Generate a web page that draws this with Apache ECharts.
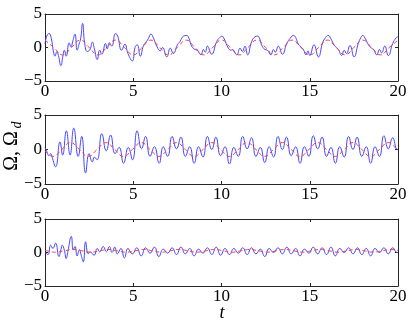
<!DOCTYPE html>
<html><head><meta charset="utf-8">
<script src="https://cdn.jsdelivr.net/npm/echarts/dist/echarts.min.js"></script>
<style>html,body{margin:0;padding:0;background:#fff}#c{width:411px;height:324px}</style>
</head><body><div id="c"></div>
<script>
// Tick values
const xTicks = [0, 5, 10, 15, 20];
const yTicks = [-5, 0, 5];

const omega1 = [
[0,0.5],[0.1,1.7],[0.23,2.1],[0.36,1.3],[0.47,-0.5],[0.57,-1.3],[0.67,-0.6],[0.76,-1.2],[0.9,-2.7],[1.02,-1.2],[1.1,-0.4],[1.2,-1.3],[1.37,0.7],[1.47,0.1],[1.58,1.0],[1.7,2.0],[1.82,-0.4],[1.93,0.5],[2.02,1.3],[2.13,3.6],[2.25,0.6],[2.4,-0.6],[2.55,-0.3],[2.68,0.8],[2.8,-0.2],[2.96,-1.8],[3.1,-0.4],[3.22,-1.0],[3.43,0.6],[3.52,-0.2],[3.65,0.7],[3.78,0.2],[4.0,2.1],[4.12,1.7],[4.34,-0.4],[4.53,0.5],[4.7,-0.9],[4.95,-2.0],[5.1,0.0],[5.23,0.4],[5.4,-1.3],[5.58,0.3],[5.72,0.8],[5.85,1.3],[6.0,2.0],
[6.13,1.5],[6.35,0.1],[6.53,-0.5],[6.66,0.0],[6.9,-1.4],[7.1,-0.1],[7.27,-0.9],[7.5,0.4],[7.65,0.9],[7.85,1.7],[8.03,1.8],
[8.15,1.4],[8.31,0.2],[8.5,-0.3],[8.62,-0.4],[8.84,-1.1],[8.97,-0.3],[9.08,-0.7],[9.2,0.2],[9.44,-1.0],[9.73,0.9],[9.91,1.5],[10.02,1.7],
[10.15,1.3],[10.39,-0.1],[10.55,-0.4],[10.62,-0.3],[10.86,-1.1],[11.05,-0.1],[11.18,-0.6],[11.33,0.2],[11.48,-1.1],[11.71,0.9],[11.9,1.6],[12.03,1.7],
[12.15,1.4],[12.27,0.4],[12.46,-0.3],[12.6,-0.4],[12.8,-1.1],[12.94,-0.3],[13.05,-0.7],[13.22,0.2],[13.45,-1.0],[13.7,0.6],[13.9,1.4],[14.08,1.8],
[14.2,1.5],[14.35,0.5],[14.5,0.1],[14.64,-0.3],[14.79,-1.1],[14.9,-0.5],[15.0,-1.2],[15.24,0.4],[15.49,-1.4],[15.73,0.7],[15.9,1.5],[16.05,1.8],
[16.18,1.4],[16.4,0.3],[16.62,-0.3],[16.81,-1.2],[16.95,-0.4],[17.08,-0.9],[17.28,0.3],[17.51,-1.4],[17.75,0.6],[17.9,1.5],[18.0,1.8],
[18.13,1.4],[18.35,0.3],[18.55,-0.2],[18.62,-0.3],[18.8,-1.1],[18.95,-0.3],[19.07,-0.8],[19.25,0.2],[19.45,-1.2],[19.7,0.6],[19.88,1.4],[20.0,1.6]
];
// Panel 1: desired Omega_d (red dashed)
const omegaD1 = [
[0,1.1],[0.5,0],[1,-1.1],[1.5,0],[2,1.1],[2.5,0],[3,-1.1],[3.5,0],[4,1.1],[4.5,0],[5,-1.1],[5.5,0],[6,1.1],[6.5,0],[7,-1.1],[7.5,0],[8,1.1],[8.5,0],[9,-1.1],[9.5,0],[10,1.1],
[10.5,0],[11,-1.1],[11.5,0],[12,1.1],[12.5,0],[13,-1.1],[13.5,0],[14,1.1],[14.5,0],[15,-1.1],[15.5,0],[16,1.1],[16.5,0],[17,-1.1],[17.5,0],[18,1.1],[18.5,0],[19,-1.1],[19.5,0],[20,1.1]
];

// Panel 2
const omega2 = [
[0,0.3],[0.12,-0.4],[0.22,-0.9],[0.32,-0.6],[0.4,-1.1],[0.6,-2.5],[0.85,1.1],[1.0,-0.8],[1.21,2.7],[1.42,-0.8],[1.63,3.1],[1.88,-1.0],[2.08,1.9],[2.3,-3.4],[2.5,-0.6],[2.68,-1.8],[2.8,-1.1],[2.95,-1.5],
[3.22,2.3],[3.47,-0.2],[3.72,2.1],[3.97,-0.6],[4.2,0.3],[4.45,-2.0],[4.72,0.3],[4.96,-1.5],[5.22,2.7],[5.47,0.1],[5.7,1.9],[5.95,-1.0],
[6.2,0.4],[6.47,-2.0],[6.7,0.4],[6.95,-1.0],[7.2,1.9],[7.45,0.1],[7.7,1.8],[7.95,-1.0],[8.2,0.4],[8.45,-2.0],[8.7,0.4],[8.95,-1.1],[9.2,1.9],[9.45,0],[9.68,1.8],[9.95,-0.9],
[10.2,0.4],[10.45,-2.1],[10.7,0.3],[10.95,-1.0],[11.2,1.9],[11.45,0.1],[11.7,1.7],[11.95,-1.0],[12.2,0.3],[12.45,-1.9],[12.7,0.4],[12.95,-1.1],[13.2,1.9],[13.45,0.0],[13.68,1.8],[13.95,-0.9],
[14.2,0.4],[14.45,-2.0],[14.7,0.4],[14.95,-1.0],[15.2,2.0],[15.45,0.1],[15.7,1.8],[15.95,-1.0],[16.2,0.3],[16.45,-2.0],[16.7,0.4],[16.95,-1.1],[17.2,1.9],[17.45,0.0],[17.68,1.8],[17.95,-1.0],
[18.2,0.4],[18.45,-2.0],[18.7,0.4],[18.95,-1.0],[19.2,2.0],[19.45,0.1],[19.7,1.7],[19.95,0.0],[20,0.1]
];
const omegaD2 = [
[0,-0.2],[0.45,-1.0],[0.95,0],[1.45,1.0],[1.95,0],[2.45,-1.0],[2.95,0],[3.45,1.0],[3.95,0],[4.45,-1.0],[4.95,0],[5.45,1.0],[5.95,0],[6.45,-1.0],[6.95,0],[7.45,1.0],[7.95,0],[8.45,-1.0],[8.95,0],[9.45,1.0],[9.95,0],
[10.45,-1.0],[10.95,0],[11.45,1.0],[11.95,0],[12.45,-1.0],[12.95,0],[13.45,1.0],[13.95,0],[14.45,-1.0],[14.95,0],[15.45,1.0],[15.95,0],[16.45,-1.0],[16.95,0],[17.45,1.0],[17.95,0],[18.45,-1.0],[18.95,0],[19.45,1.0],[19.95,0],[20,-0.15]
];

// Panel 3
const omega3 = [
[0,0.0],[0.17,-0.3],[0.32,1.1],[0.45,0.6],[0.6,1.4],[0.79,-0.6],[0.9,0.4],[0.98,1.1],[1.1,0.3],[1.2,-0.9],[1.3,0.2],[1.49,2.4],[1.6,0.4],[1.7,0.9],[1.82,-0.5],[1.95,0.4],[2.05,-0.4],[2.17,-1.4],[2.3,1.6],[2.45,-0.2],[2.55,0.1],[2.78,-0.4],[2.96,0.6],[3.1,0.1],[3.3,0.9],[3.48,0.1],[3.65,0.9],[3.8,0.0],[3.95,0.8],[4.1,-0.2],[4.3,0.6],[4.5,-0.8],
[4.7,0.6],[4.95,-0.2],[5.2,0.7],[5.45,-0.5],[5.7,0.7],[5.95,-0.1],[6.2,0.8],[6.45,-0.6],[6.7,0.5],[6.95,-0.1],[7.2,0.7],[7.45,-0.3],[7.7,0.8],[7.95,-0.2],[8.2,0.6],[8.45,-0.5],[8.7,0.5],[8.95,-0.1],[9.2,0.7],[9.45,-0.3],[9.7,0.8],[9.95,-0.4],
[10.2,0.6],[10.45,-0.3],[10.7,0.6],[10.95,-0.1],[11.2,0.7],[11.45,-0.3],[11.7,0.7],[11.95,-0.2],[12.2,0.5],[12.45,-0.6],[12.7,0.6],[12.95,0.0],[13.2,0.7],[13.45,-0.2],[13.7,0.8],[13.95,-0.2],
[14.2,0.6],[14.45,-0.5],[14.7,0.5],[14.95,-0.1],[15.2,0.8],[15.45,-0.2],[15.7,0.7],[15.95,-0.3],[16.2,0.8],[16.45,-0.5],[16.7,0.6],[16.95,0.0],[17.2,0.7],[17.45,-0.2],[17.7,0.7],[17.95,-0.3],
[18.2,0.6],[18.45,-0.5],[18.7,0.6],[18.95,0.0],[19.2,0.7],[19.45,-0.2],[19.7,0.7],[19.95,0.0],[20,0.0]
];
const omegaD3 = [
[0,0.31],[0.1,0.25],[0.6,0.05],[1.1,0.25],[1.6,0.45],[2.1,0.25],[2.6,0.05],[3.1,0.25],[3.6,0.45],[4.1,0.25],[4.6,0.05],[5.1,0.25],[5.6,0.45],[6.1,0.25],[6.6,0.05],[7.1,0.25],[7.6,0.45],[8.1,0.25],[8.6,0.05],[9.1,0.25],[9.6,0.45],
[10.1,0.25],[10.6,0.05],[11.1,0.25],[11.6,0.45],[12.1,0.25],[12.6,0.05],[13.1,0.25],[13.6,0.45],[14.1,0.25],[14.6,0.05],[15.1,0.25],[15.6,0.45],[16.1,0.25],[16.6,0.05],[17.1,0.25],[17.6,0.45],[18.1,0.25],[18.6,0.05],[19.1,0.25],[19.6,0.45],[20,0.31]
];

const blueSeries = [omega1, omega2, omega3];
const redSeries = [omegaD1, omegaD2, omegaD3];

const FONT = '"Liberation Serif", "Times New Roman", serif';
const AX = '#262626';
const grids = [
  {left: 45, top: 14, width: 353, height: 67},
  {left: 45, top: 115, width: 353, height: 69},
  {left: 45, top: 219, width: 353, height: 67}
];
const xAxes = [], yAxes = [], series = [];
grids.forEach((g, i) => {
  xAxes.push({gridIndex: i, type: 'value', min: xTicks[0], max: xTicks[xTicks.length-1], interval: xTicks[1]-xTicks[0], position: 'bottom',
    axisLine: {show: true, onZero: false, lineStyle: {color: AX, width: 1}}, axisTick: {show: true, inside: true, length: 3, lineStyle: {color: AX}},
    axisLabel: {show: true, margin: 2, fontFamily: FONT, fontSize: 17, color: '#000'}, splitLine: {show: false}});
  xAxes.push({gridIndex: i, type: 'value', min: xTicks[0], max: xTicks[xTicks.length-1], interval: xTicks[1]-xTicks[0], position: 'top',
    axisLine: {show: true, onZero: false, lineStyle: {color: AX, width: 1}}, axisTick: {show: true, inside: true, length: 3, lineStyle: {color: AX}},
    axisLabel: {show: false}, splitLine: {show: false}});
  yAxes.push({gridIndex: i, type: 'value', min: yTicks[0], max: yTicks[yTicks.length-1], interval: yTicks[1]-yTicks[0], position: 'left',
    axisLine: {show: true, onZero: false, lineStyle: {color: AX, width: 1}}, axisTick: {show: true, inside: true, length: 3, lineStyle: {color: AX}},
    axisLabel: {show: true, margin: 3, fontFamily: FONT, fontSize: 17, color: '#000', formatter: v => v < 0 ? '\u2212' + (-v) : String(v)}, splitLine: {show: false}});
  yAxes.push({gridIndex: i, type: 'value', min: yTicks[0], max: yTicks[yTicks.length-1], interval: yTicks[1]-yTicks[0], position: 'right',
    axisLine: {show: true, onZero: false, lineStyle: {color: AX, width: 1}}, axisTick: {show: true, inside: true, length: 3, lineStyle: {color: AX}},
    axisLabel: {show: false}, splitLine: {show: false}});
  series.push({type: 'line', xAxisIndex: 2*i, yAxisIndex: 2*i, data: blueSeries[i], smooth: 0.5, symbol: 'none', clip: true,
    lineStyle: {color: '#4747ff', width: 1}, z: 2});
  series.push({type: 'line', xAxisIndex: 2*i, yAxisIndex: 2*i, data: redSeries[i], smooth: 0.5, symbol: 'none', clip: true,
    lineStyle: {color: '#ff3b3b', width: 1, type: [4, 3]}, z: 3});
});

const chart = echarts.init(document.getElementById('c'), null, {renderer: 'canvas'});
chart.setOption({
  animation: false,
  backgroundColor: '#fff',
  grid: grids,
  xAxis: xAxes,
  yAxis: yAxes,
  series: series,
  graphic: [
    {type: 'text', x: 12, y: 151, rotation: Math.PI/2, style: {text: 'Ω, Ω', font: '20px ' + FONT, fill: '#000', align: 'center', verticalAlign: 'middle'}},
    {type: 'text', x: 17, y: 125, rotation: Math.PI/2, style: {text: 'd', font: 'italic 14px ' + FONT, fill: '#000', align: 'center', verticalAlign: 'middle'}},
    {type: 'text', x: 222, y: 313, style: {text: 't', font: 'italic 18px ' + FONT, fill: '#000', align: 'center', verticalAlign: 'middle'}}
  ]
});
</script></body></html>
